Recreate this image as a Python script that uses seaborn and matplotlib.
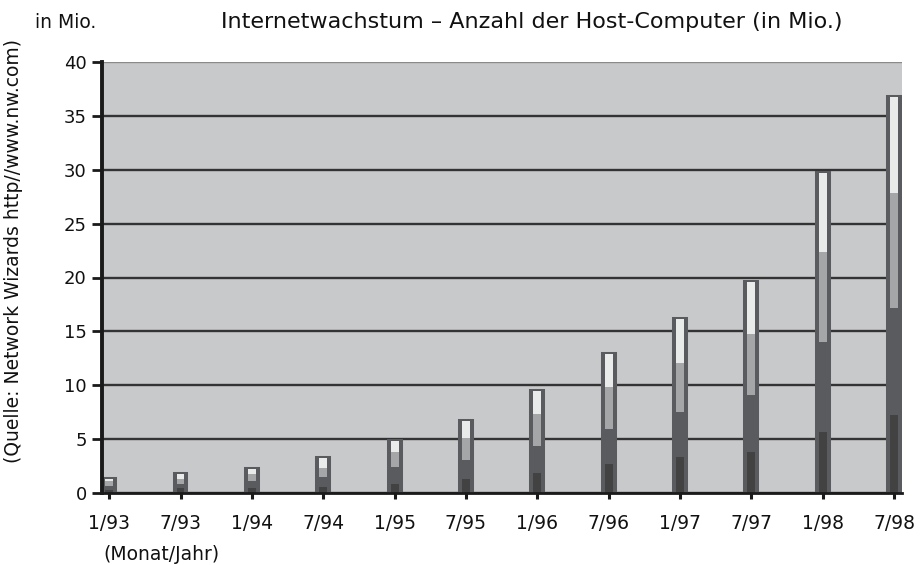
import matplotlib
matplotlib.use('Agg')
import matplotlib.pyplot as plt
import seaborn as sns
import pandas as pd

# Daten (Network Wizards, Anzahl Hosts in Mio.)
dates = ['1/93', '7/93', '1/94', '7/94', '1/95', '7/95',
         '1/96', '7/96', '1/97', '7/97', '1/98', '7/98']
hosts_total = [1.31, 1.78, 2.22, 3.21, 4.85, 6.64, 9.47, 12.88, 16.15, 19.54, 29.67, 36.74]
serie_mittel = [1.15, 1.3, 1.75, 2.3, 3.8, 5.1, 7.3, 9.8, 12.1, 14.8, 22.4, 27.8]
serie_dunkel = [0.65, 0.85, 1.1, 1.5, 2.4, 3.1, 4.4, 5.9, 7.5, 9.1, 14.0, 17.2]
serie_basis = [0.3, 0.45, 0.45, 0.55, 0.85, 1.3, 1.9, 2.7, 3.35, 3.8, 5.7, 7.2]
y_ticks = [0, 5, 10, 15, 20, 25, 30, 35, 40]

df = pd.DataFrame({'datum': dates, 'total': hosts_total, 'mittel': serie_mittel,
                   'dunkel': serie_dunkel, 'basis': serie_basis})

C_OUTER = '#5a5b5e'
C_LIGHT = '#e9eaea'
C_MID = '#a5a6a8'
C_DARKEST = '#424242'
C_BG = '#c8c9cb'
C_GRID = '#333333'

sns.set_style('white')
plt.rcParams['font.family'] = 'DejaVu Sans'
plt.rcParams['text.color'] = '#111111'
plt.rcParams['axes.labelcolor'] = '#111111'
plt.rcParams['xtick.labelcolor'] = '#111111'
plt.rcParams['ytick.labelcolor'] = '#111111'

fig = plt.figure(figsize=(9.24, 5.65), dpi=100)
ax = fig.add_axes([102 / 924, 72 / 565, 800 / 924, 431 / 565])
ax.set_facecolor(C_BG)

# aeussere Balken (Gesamtwert) mit dickem Rand
sns.barplot(data=df, x='datum', y='total', color=C_OUTER, saturation=1,
            width=0.168, edgecolor=C_OUTER, linewidth=2.9, errorbar=None, ax=ax)
# innere schmale Balken
for col, c in [('total', C_LIGHT), ('mittel', C_MID), ('dunkel', C_OUTER), ('basis', C_DARKEST)]:
    sns.barplot(data=df, x='datum', y=col, color=c, saturation=1,
                width=0.112, linewidth=0, errorbar=None, ax=ax)

for p in ax.patches:
    p.set_zorder(3)

ax.set_xlim(-0.1, 11.11)
ax.set_ylim(0, 40)
ax.set_yticks(y_ticks)
ax.yaxis.grid(True, color=C_GRID, linewidth=1.7, zorder=1)
ax.yaxis.get_gridlines()[-1].set_color('#8a8a8a')
ax.set_axisbelow(True)

for side in ['top', 'right']:
    ax.spines[side].set_visible(False)
ax.spines['left'].set_color('#1a1a1a')
ax.spines['left'].set_linewidth(2.8)
ax.spines['left'].set_zorder(5)
ax.spines['bottom'].set_color('#1a1a1a')
ax.spines['bottom'].set_linewidth(2.0)
ax.spines['bottom'].set_zorder(5)

ax.tick_params(axis='y', direction='out', length=7, width=2, color='#1a1a1a',
               labelsize=13, pad=4, left=True)
ax.tick_params(axis='x', direction='out', length=4, width=2.2, color='#1a1a1a',
               labelsize=13.5, pad=11, bottom=True)
ax.set_xlabel('')
ax.set_ylabel('')

fig.text(14 / 924, 1 - 251 / 565, '(Quelle: Network Wizards http//www.nw.com)',
         rotation=90, ha='center', va='center', fontsize=13.5)
fig.text(532 / 924, 1 - 22 / 565, 'Internetwachstum \u2013 Anzahl der Host-Computer (in Mio.)',
         ha='center', va='center', fontsize=16)
fig.text(35 / 924, 1 - 22 / 565, 'in Mio.', ha='left', va='center', fontsize=13.5)
fig.text(103 / 924, 1 - 555 / 565, '(Monat/Jahr)', ha='left', va='center', fontsize=13.5)

plt.savefig('out.png', dpi=100)
plt.close()
